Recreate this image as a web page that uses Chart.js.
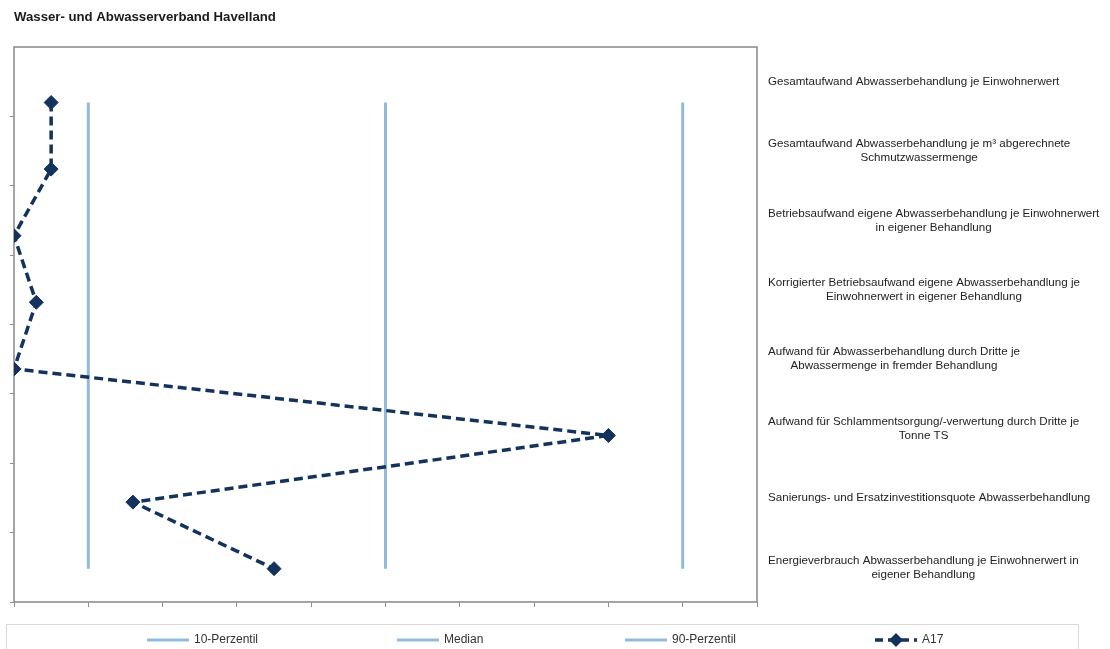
<!DOCTYPE html>
<html>
<head>
<meta charset="utf-8">
<script src="https://cdn.jsdelivr.net/npm/chart.js@4/dist/chart.umd.min.js"></script>
<style>
  html, body { margin: 0; padding: 0; background: #fff; }
  #wrap { width: 1110px; height: 649px; position: relative; }
</style>
</head>
<body>
<div id="wrap"><canvas id="chart"></canvas></div>
<script>
var chartTitle = "Wasser- und Abwasserverband Havelland";

// indicators, top to bottom (each entry = wrapped lines)
var categories = [
    ["Gesamtaufwand Abwasserbehandlung je Einwohnerwert"],
    ["Gesamtaufwand Abwasserbehandlung je m³ abgerechnete", "Schmutzwassermenge"],
    ["Betriebsaufwand eigene Abwasserbehandlung je Einwohnerwert", "in eigener Behandlung"],
    ["Korrigierter Betriebsaufwand eigene Abwasserbehandlung je", "Einwohnerwert in eigener Behandlung"],
    ["Aufwand für Abwasserbehandlung durch Dritte je", "Abwassermenge in fremder Behandlung"],
    ["Aufwand für Schlammentsorgung/-verwertung durch Dritte je", "Tonne TS"],
    ["Sanierungs- und Ersatzinvestitionsquote Abwasserbehandlung"],
    ["Energieverbrauch Abwasserbehandlung je Einwohnerwert in", "eigener Behandlung"]
];

// vertical position of each indicator's point on the value axis
var categoryPos = [7.2, 6.24, 5.28, 4.32, 3.36, 2.4, 1.44, 0.48];

// A17 scores per indicator
var a17Values = [0.5, 0.5, 0, 0.3, 0, 8, 1.6, 3.5];

// reference lines
var p10Value = 1;
var medianValue = 5;
var p90Value = 9;

var xTicks = [0, 10];
var yTicks = [0, 8];

var refColor = "#93b9dd";
var a17Color = "#13325c";
var axisColor = "#8f8f8f";
var font = '"Liberation Sans", Arial, sans-serif';

function refLine(label, value) {
    return {
        label: label,
        data: [
            { x: value, y: categoryPos[0] },
            { x: value, y: categoryPos[categoryPos.length - 1] }
        ],
        showLine: true,
        borderColor: refColor,
        borderWidth: 3,
        pointRadius: 0,
        order: 1
    };
}

var a17Data = a17Values.map(function (v, i) {
    return { x: v, y: categoryPos[i] };
});

// frame, title, category labels and legend
var extras = {
    id: "extras",
    beforeDatasetsDraw: function (chart) {
        var ctx = chart.ctx, a = chart.chartArea;
        ctx.save();
        ctx.strokeStyle = axisColor;
        ctx.lineWidth = 1.6;
        ctx.strokeRect(a.left, a.top, a.right - a.left, a.bottom - a.top);
        ctx.restore();
    },
    afterDraw: function (chart) {
        var ctx = chart.ctx, a = chart.chartArea, yScale = chart.scales.y;
        ctx.save();

        ctx.fillStyle = "#1a1a1a";
        ctx.font = "bold 13.2px " + font;
        ctx.textAlign = "left";
        ctx.textBaseline = "middle";
        ctx.fillText(chartTitle, 14, 17);

        // labels sit in equal bands right of the plot
        ctx.font = "11.6px " + font;
        ctx.fillStyle = "#222";
        ctx.textAlign = "center";
        var n = categories.length;
        categories.forEach(function (lines, i) {
            var cy = yScale.getPixelForValue((n - i - 0.5) * (yTicks[1] / n));
            var w = Math.max.apply(null, lines.map(function (l) { return ctx.measureText(l).width; }));
            var cx = a.right + 11 + w / 2;
            lines.forEach(function (l, k) {
                ctx.fillText(l, cx, cy + (k - (lines.length - 1) / 2) * 14);
            });
        });

        // legend box
        ctx.strokeStyle = "#d9d9d9";
        ctx.lineWidth = 1;
        ctx.strokeRect(6.5, 624.5, 1072, 40);

        var items = [
            { ds: 1, x: 147 },
            { ds: 2, x: 397 },
            { ds: 3, x: 625 },
            { ds: 0, x: 875 }
        ];
        var ly = 640;
        ctx.font = "12px " + font;
        ctx.textAlign = "left";
        items.forEach(function (it) {
            var ds = chart.data.datasets[it.ds];
            ctx.strokeStyle = ds.borderColor;
            ctx.lineWidth = ds.borderWidth;
            ctx.setLineDash(ds.borderDash ? [8, 5] : []);
            ctx.beginPath();
            ctx.moveTo(it.x, ly);
            ctx.lineTo(it.x + 42, ly);
            ctx.stroke();
            ctx.setLineDash([]);
            if (ds.pointRadius) {
                Chart.helpers.drawPoint(ctx, {
                    pointStyle: ds.pointStyle,
                    radius: 4.5,
                    borderWidth: 1
                }, it.x + 21, ly);
                ctx.fillStyle = ds.backgroundColor;
                ctx.fill();
            }
            ctx.fillStyle = "#333";
            ctx.fillText(ds.label, it.x + 47, ly);
        });

        ctx.restore();
    }
};

new Chart(document.getElementById("chart"), {
    type: "scatter",
    data: {
        datasets: [
            {
                label: "A17",
                data: a17Data,
                showLine: true,
                borderColor: a17Color,
                backgroundColor: a17Color,
                borderWidth: 3.5,
                borderDash: [9, 5],
                pointStyle: "rectRot",
                pointRadius: 7,
                pointBorderWidth: 1,
                order: 0
            },
            refLine("10-Perzentil", p10Value),
            refLine("Median", medianValue),
            refLine("90-Perzentil", p90Value)
        ]
    },
    options: {
        responsive: true,
        maintainAspectRatio: false,
        animation: false,
        layout: { padding: { left: 9, right: 353, top: 47, bottom: 42 } },
        plugins: {
            legend: { display: false },
            tooltip: { enabled: false }
        },
        scales: {
            x: {
                type: "linear",
                min: xTicks[0],
                max: xTicks[1],
                ticks: { display: false, stepSize: 1 },
                grid: { drawOnChartArea: false, drawTicks: true, tickLength: 5, color: axisColor, lineWidth: 1 },
                border: { display: false },
                afterFit: function (s) { s.height = 5; }
            },
            y: {
                type: "linear",
                min: yTicks[0],
                max: yTicks[1],
                ticks: { display: false, stepSize: 1 },
                grid: {
                    drawOnChartArea: false,
                    drawTicks: true,
                    tickLength: 4,
                    lineWidth: 1,
                    // no tick mark at the top corner
                    color: function (c) {
                        return c.tick && c.tick.value === yTicks[1] ? "rgba(0,0,0,0)" : axisColor;
                    }
                },
                border: { display: false },
                afterFit: function (s) { s.width = 5; }
            }
        }
    },
    plugins: [extras]
});
</script>
</body>
</html>
